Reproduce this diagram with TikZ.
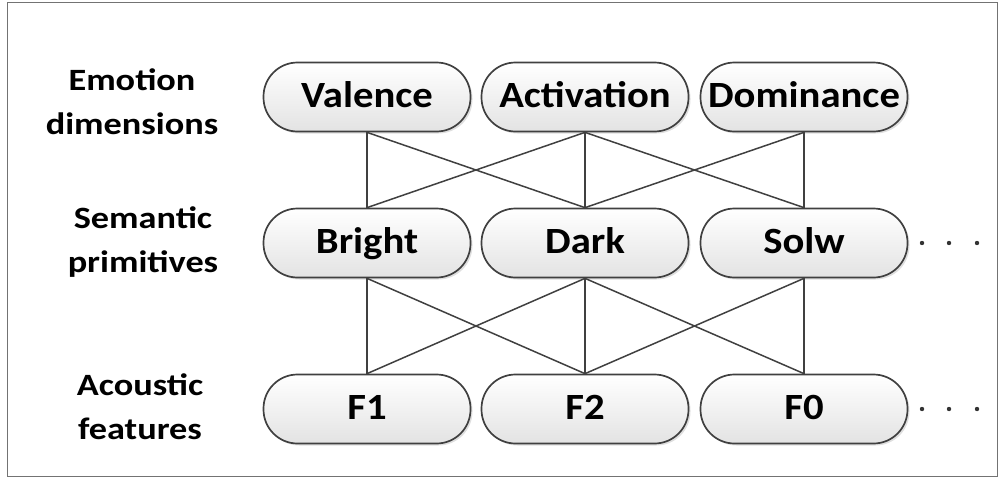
\documentclass[tikz,border=0pt]{standalone}
\usepackage{fontspec}
\setmainfont{Carlito}
\newfontfamily\unitfont[FakeStretch=1.1]{Carlito}
\newfontfamily\labelfont[FakeStretch=1.17]{Carlito}
\usetikzlibrary{shadows}
\begin{document}
\begin{tikzpicture}[x=1pt,y=-1pt,
  unit/.style={draw=black!75, line width=1.7pt, rounded corners=34pt,
    minimum width=207pt, minimum height=69pt, inner sep=0pt,
    text height=24pt, text depth=4pt,
    top color=white, bottom color=black!11,
    drop shadow={shadow xshift=2pt, shadow yshift=-2pt, opacity=0.25, fill=black!50},
    font=\unitfont\fontsize{37}{40}\selectfont\bfseries},
  rowlabel/.style={align=center,
    font=\labelfont\fontsize{31}{44}\selectfont\bfseries},
  link/.style={draw=black!75, line width=1.5pt},
  dot/.style={fill=black!80}]
\useasboundingbox (0,0) rectangle (1002,479);
\draw[black!55, line width=1pt] (7,2) rectangle (997,476);

% row labels
\node[rowlabel] (lemo) at (132,102) {Emotion\\dimensions};
\node[rowlabel] (lsem) at (143,242) {Semantic\\primitives};
\node[rowlabel] (laco) at (140,407) {Acoustic\\features};

% emotion dimensions
\node[unit] (val) at (367,97) {Valence};
\node[unit] (act) at (585,97) {Activation};
\node[unit] (dom) at (804,97) {Dominance};
% semantic primitives
\node[unit] (bri) at (367,243) {Bright};
\node[unit] (dar) at (585,243) {Dark};
\node[unit] (slo) at (804,243) {Solw};
% acoustic features
\node[unit] (fa) at (367,409) {F1};
\node[unit] (fb) at (585,409) {F2};
\node[unit] (fc) at (804,409) {F0};

% links between emotion dimensions and semantic primitives
\draw[link] (val.south) -- (bri.north);
\draw[link] (val.south) -- (dar.north);
\draw[link] (act.south) -- (bri.north);
\draw[link] (act.south) -- (dar.north);
\draw[link] (act.south) -- (slo.north);
\draw[link] (dom.south) -- (dar.north);
\draw[link] (dom.south) -- (slo.north);
% links between semantic primitives and acoustic features
\draw[link] (bri.south) -- (fa.north);
\draw[link] (bri.south) -- (fb.north);
\draw[link] (dar.south) -- (fa.north);
\draw[link] (dar.south) -- (fb.north);
\draw[link] (dar.south) -- (fc.north);
\draw[link] (slo.south) -- (fb.north);
\draw[link] (slo.south) -- (fc.north);

% continuation marks
\foreach \yy in {243,409} {
  \foreach \xx in {922,949,977} {
    \fill[dot] (\xx,\yy) circle (2.2pt);
  }
}
\end{tikzpicture}
\end{document}
